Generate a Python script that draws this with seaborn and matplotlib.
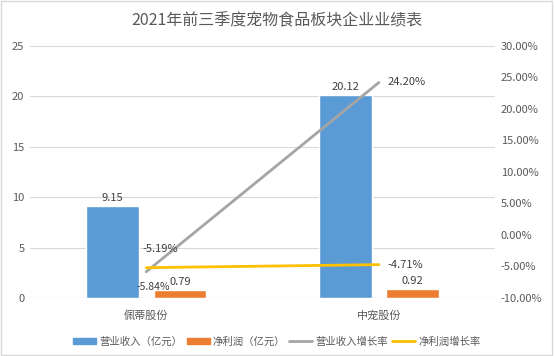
import pandas as pd
import seaborn as sns
import matplotlib.pyplot as plt
from matplotlib.lines import Line2D
from matplotlib.patches import Patch

sns.set_theme(style="white")
plt.rcParams['font.family'] = ['Noto Sans CJK SC', 'DejaVu Sans']

companies = ["佩蒂股份", "中宠股份"]
revenue = [9.15, 20.12]
net_profit = [0.79, 0.92]
revenue_growth = [-5.84, 24.20]
profit_growth = [-5.19, -4.71]

bar_names = ["营业收入（亿元）", "净利润（亿元）"]
line_names = ["营业收入增长率", "净利润增长率"]
colors = {"营业收入（亿元）": "#5B9BD5", "净利润（亿元）": "#ED7D31"}
line_colors = ["#A5A5A5", "#FFC000"]
txt = "#595959"

df = pd.DataFrame({
    "company": companies * 2,
    "series": [bar_names[0]] * 2 + [bar_names[1]] * 2,
    "value": revenue + net_profit,
})

fig = plt.figure(figsize=(5.54, 3.56), dpi=100)
ax = fig.add_axes([0.054, 0.163, 0.84, 0.708])
sns.barplot(data=df, x="company", y="value", hue="series", palette=colors,
            width=0.58, gap=0.22, ax=ax, legend=False, saturation=1)
ax.set_xlim(-0.5, 1.5)
ax.set_ylim(0, 25)
ax.set_yticks(range(0, 26, 5))
ax.grid(axis="y", color="#D9D9D9", linewidth=0.8)
ax.set_axisbelow(True)
for s in ax.spines.values():
    s.set_visible(False)
ax.axhline(0, color="#BFBFBF", linewidth=0.8)
ax.set_xlabel("")
ax.set_ylabel("")
ax.tick_params(axis="y", length=0, labelsize=8, colors=txt, pad=4)
ax.tick_params(axis="x", length=0, labelsize=8, colors=txt, pad=9)
for c in ax.containers:
    ax.bar_label(c, fmt="%.2f", fontsize=8, color="#404040", padding=2)

ax2 = ax.twinx()
gdf = pd.DataFrame({"company": companies * 2,
                    "series": [line_names[0]] * 2 + [line_names[1]] * 2,
                    "rate": revenue_growth + profit_growth})
sns.lineplot(data=gdf, x="company", y="rate", hue="series",
             palette=line_colors, linewidth=2, ax=ax2, legend=False)
ax2.set_ylim(-10, 30)
ax2.set_yticks(range(-10, 31, 5))
ax2.set_yticklabels([f"{v:.2f}%" for v in range(-10, 31, 5)])
for s in ax2.spines.values():
    s.set_visible(False)
ax2.set_ylabel("")
ax2.tick_params(axis="y", length=0, labelsize=8, colors=txt, pad=4)

# data labels for growth lines
ax2.annotate(f"{revenue_growth[0]:.2f}%", (0, revenue_growth[0]), xytext=(-7, -13),
             textcoords="offset points", fontsize=7.5, color="#404040")
ax2.annotate(f"{profit_growth[0]:.2f}%", (0, profit_growth[0]), xytext=(-3, 11),
             textcoords="offset points", fontsize=8, color="#404040")
ax2.annotate(f"{revenue_growth[1]:.2f}%", (1, revenue_growth[1]), xytext=(6, 0),
             textcoords="offset points", fontsize=8, color="#404040", va="center")
ax2.annotate(f"{profit_growth[1]:.2f}%", (1, profit_growth[1]), xytext=(6, 0),
             textcoords="offset points", fontsize=8, color="#404040", va="center")

fig.suptitle("2021年前三季度宠物食品板块企业业绩表", y=0.965, fontsize=11.5, color=txt)

handles = [Patch(color=colors[bar_names[0]]), Patch(color=colors[bar_names[1]]),
           Line2D([], [], color=line_colors[0], lw=2), Line2D([], [], color=line_colors[1], lw=2)]
fig.legend(handles, bar_names + line_names, loc="lower center", ncol=4,
           bbox_to_anchor=(0.5, 0.0), frameon=False, fontsize=7.5, labelcolor=txt,
           handlelength=2.2, handleheight=0.6, columnspacing=0.4, handletextpad=0.3)

fig.patches.append(plt.Rectangle((0.002, 0.003), 0.995, 0.994, transform=fig.transFigure,
                                 fill=False, edgecolor="#D9D9D9", linewidth=1))
fig.savefig("out.png", dpi=100)
